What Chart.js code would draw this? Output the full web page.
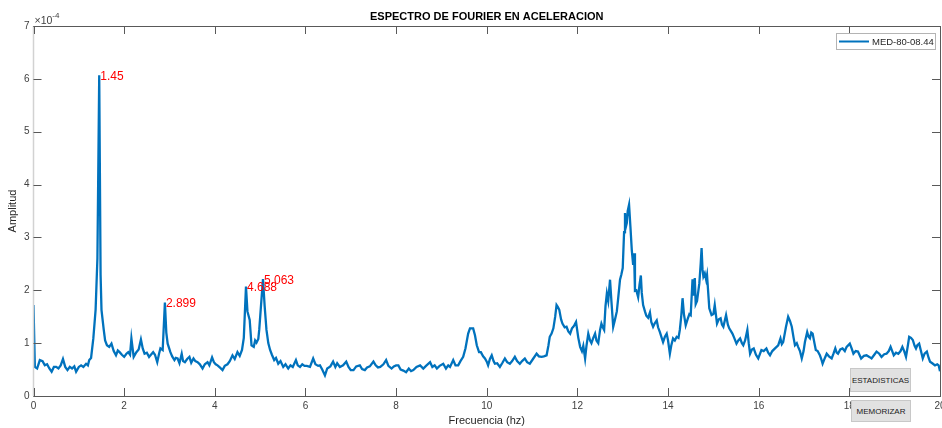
<!DOCTYPE html>
<html>
<head>
<meta charset="utf-8">
<script src="https://cdn.jsdelivr.net/npm/chart.js@4/dist/chart.umd.min.js"></script>
<style>
  body { margin: 0; background: #fff; }
  #wrap { position: relative; width: 942px; height: 428px; }
  .btn {
    position: absolute; box-sizing: border-box;
    background: #e1e1e1; border: 1px solid #c8c8c8;
    font: 8px "Liberation Sans", Arial, sans-serif; color: #1a1a1a;
    display: flex; align-items: center; justify-content: center;
  }
</style>
</head>
<body>
<div id="wrap">
  <canvas id="spectrum" width="942" height="428"></canvas>
  <div class="btn" style="left:850px; top:368px; width:61px; height:24px;">ESTADISTICAS</div>
  <div class="btn" style="left:851px; top:400px; width:60px; height:22px;">MEMORIZAR</div>
</div>
<script>
// Fourier amplitude spectrum, amplitudes in units of 1e-4
const seriesLabel = 'MED-80-08.44';
const freq = [
  0.00, 0.03, 0.08, 0.14, 0.20, 0.25, 0.30, 0.35, 0.40, 0.45, 0.50, 0.55, 0.60, 0.65, 0.70, 0.75,
  0.80, 0.85, 0.90, 0.94, 1.00, 1.05, 1.10, 1.16, 1.20, 1.23, 1.27, 1.32, 1.37, 1.41, 1.45, 1.48,
  1.50, 1.55, 1.58, 1.62, 1.67, 1.72, 1.77, 1.82, 1.86, 1.90, 1.95, 2.00, 2.05, 2.09, 2.13, 2.16,
  2.21, 2.27, 2.32, 2.37, 2.41, 2.45, 2.50, 2.55, 2.60, 2.64, 2.68, 2.73, 2.77, 2.80, 2.85, 2.899,
  2.93, 2.96, 3.02, 3.06, 3.11, 3.14, 3.18, 3.22, 3.27, 3.30, 3.34, 3.39, 3.44, 3.48, 3.53, 3.57,
  3.62, 3.67, 3.73, 3.78, 3.84, 3.88, 3.94, 3.98, 4.02, 4.06, 4.11, 4.17, 4.22, 4.28, 4.33, 4.39,
  4.44, 4.50, 4.55, 4.60, 4.64, 4.688, 4.72, 4.77, 4.81, 4.86, 4.89, 4.92, 4.96, 4.98, 5.01, 5.063,
  5.10, 5.14, 5.18, 5.22, 5.26, 5.31, 5.35, 5.40, 5.45, 5.51, 5.56, 5.62, 5.67, 5.72, 5.79, 5.83,
  5.88, 5.93, 5.98, 6.03, 6.10, 6.17, 6.22, 6.28, 6.32, 6.37, 6.43, 6.48, 6.55, 6.61, 6.66, 6.70,
  6.76, 6.83, 6.90, 6.95, 7.00, 7.06, 7.12, 7.20, 7.25, 7.31, 7.36, 7.42, 7.50, 7.55, 7.60, 7.65,
  7.72, 7.78, 7.83, 7.90, 7.95, 8.00, 8.05, 8.10, 8.16, 8.22, 8.28, 8.33, 8.38, 8.45, 8.53, 8.60,
  8.66, 8.75, 8.80, 8.85, 8.90, 8.96, 9.04, 9.10, 9.15, 9.19, 9.26, 9.31, 9.37, 9.42, 9.48, 9.53,
  9.59, 9.63, 9.67, 9.70, 9.74, 9.78, 9.83, 9.87, 9.92, 9.96, 10.00, 10.03, 10.07, 10.11, 10.15, 10.18,
  10.23, 10.29, 10.34, 10.40, 10.45, 10.51, 10.56, 10.62, 10.67, 10.73, 10.78, 10.84, 10.89, 10.95, 11.02, 11.10,
  11.15, 11.21, 11.26, 11.32, 11.36, 11.39, 11.43, 11.47, 11.51, 11.54, 11.57, 11.60, 11.64, 11.67, 11.72, 11.76,
  11.80, 11.84, 11.88, 11.91, 11.94, 11.97, 12.02, 12.06, 12.10, 12.13, 12.17, 12.20, 12.24, 12.28, 12.31, 12.35,
  12.39, 12.42, 12.46, 12.50, 12.53, 12.56, 12.59, 12.62, 12.65, 12.68, 12.72, 12.75, 12.79, 12.83, 12.87, 12.90,
  12.94, 12.97, 13.00, 13.03, 13.05, 13.07, 13.09, 13.11, 13.14, 13.17, 13.20, 13.23, 13.25, 13.27, 13.30, 13.34,
  13.37, 13.40, 13.42, 13.45, 13.49, 13.52, 13.56, 13.60, 13.63, 13.67, 13.71, 13.75, 13.78, 13.82, 13.86, 13.89,
  13.93, 13.97, 14.00, 14.04, 14.07, 14.11, 14.15, 14.19, 14.23, 14.26, 14.29, 14.32, 14.35, 14.39, 14.43, 14.47,
  14.50, 14.54, 14.56, 14.59, 14.61, 14.64, 14.67, 14.69, 14.72, 14.74, 14.76, 14.78, 14.81, 14.84, 14.86, 14.91,
  14.96, 15.00, 15.03, 15.08, 15.12, 15.16, 15.19, 15.22, 15.28, 15.32, 15.35, 15.42, 15.46, 15.51, 15.55, 15.59,
  15.63, 15.66, 15.70, 15.75, 15.78, 15.81, 15.85, 15.89, 15.94, 15.99, 16.03, 16.06, 16.11, 16.17, 16.21, 16.25,
  16.30, 16.36, 16.43, 16.48, 16.51, 16.54, 16.60, 16.65, 16.69, 16.73, 16.77, 16.80, 16.84, 16.87, 16.91, 16.95,
  16.99, 17.02, 17.07, 17.10, 17.13, 17.16, 17.19, 17.23, 17.26, 17.30, 17.35, 17.38, 17.41, 17.46, 17.50, 17.55,
  17.61, 17.65, 17.69, 17.72, 17.75, 17.80, 17.85, 17.90, 17.94, 18.01, 18.05, 18.09, 18.14, 18.19, 18.26, 18.32,
  18.38, 18.44, 18.49, 18.55, 18.60, 18.66, 18.71, 18.77, 18.82, 18.87, 18.91, 18.95, 18.98, 19.03, 19.08, 19.13,
  19.17, 19.21, 19.25, 19.29, 19.32, 19.36, 19.40, 19.44, 19.47, 19.50, 19.54, 19.58, 19.62, 19.66, 19.71, 19.75,
  19.78, 19.83, 19.89, 19.94, 19.97, 20.00
];
const amp = [
  1.72, 0.55, 0.52, 0.68, 0.66, 0.58, 0.60, 0.52, 0.46, 0.55, 0.55, 0.52, 0.58, 0.70, 0.55, 0.49,
  0.55, 0.52, 0.56, 0.46, 0.55, 0.58, 0.55, 0.61, 0.58, 0.68, 0.72, 1.09, 1.63, 2.60, 6.07, 2.30,
  1.63, 1.25, 1.05, 0.96, 0.93, 0.99, 0.85, 0.77, 0.86, 0.83, 0.78, 0.74, 0.80, 0.83, 0.78, 1.09,
  0.74, 0.83, 0.88, 1.07, 0.90, 0.80, 0.82, 0.74, 0.79, 0.83, 0.78, 0.64, 0.80, 0.90, 0.87, 1.77,
  1.20, 0.99, 0.83, 0.75, 0.68, 0.72, 0.71, 0.62, 0.80, 0.66, 0.64, 0.70, 0.74, 0.63, 0.71, 0.66,
  0.64, 0.60, 0.52, 0.60, 0.64, 0.58, 0.73, 0.64, 0.60, 0.58, 0.54, 0.49, 0.57, 0.60, 0.66, 0.77,
  0.70, 0.83, 0.76, 0.87, 1.10, 2.07, 1.60, 1.44, 0.96, 0.93, 1.05, 1.01, 1.08, 1.25, 1.60, 2.21,
  1.70, 1.25, 1.00, 0.87, 0.78, 0.68, 0.72, 0.61, 0.66, 0.55, 0.60, 0.52, 0.58, 0.55, 0.68, 0.58,
  0.55, 0.60, 0.57, 0.57, 0.55, 0.71, 0.60, 0.57, 0.58, 0.50, 0.39, 0.52, 0.56, 0.65, 0.55, 0.62,
  0.55, 0.58, 0.65, 0.55, 0.49, 0.49, 0.56, 0.58, 0.51, 0.49, 0.54, 0.56, 0.65, 0.58, 0.54, 0.55,
  0.60, 0.68, 0.57, 0.52, 0.56, 0.58, 0.58, 0.50, 0.48, 0.45, 0.52, 0.47, 0.49, 0.55, 0.58, 0.52,
  0.57, 0.64, 0.55, 0.58, 0.52, 0.57, 0.61, 0.52, 0.58, 0.55, 0.68, 0.58, 0.58, 0.66, 0.74, 0.90,
  1.18, 1.28, 1.28, 1.28, 1.15, 0.96, 0.83, 0.83, 0.75, 0.71, 0.65, 0.58, 0.70, 0.77, 0.66, 0.61,
  0.62, 0.55, 0.62, 0.71, 0.64, 0.61, 0.66, 0.74, 0.66, 0.61, 0.66, 0.71, 0.64, 0.61, 0.70, 0.80,
  0.75, 0.74, 0.75, 0.77, 0.95, 1.12, 1.18, 1.28, 1.50, 1.72, 1.68, 1.63, 1.45, 1.37, 1.30, 1.31,
  1.22, 1.18, 1.28, 1.31, 1.35, 1.40, 1.10, 0.93, 0.85, 0.95, 0.71, 0.95, 1.18, 1.05, 1.00, 1.10,
  1.18, 1.05, 1.00, 1.25, 1.37, 1.30, 1.25, 1.70, 1.94, 1.80, 2.20, 1.80, 1.31, 1.45, 1.60, 1.85,
  2.20, 2.30, 2.42, 3.10, 3.46, 3.20, 3.27, 3.50, 3.62, 3.20, 2.76, 2.48, 2.70, 1.99, 2.00, 1.87,
  2.10, 2.28, 1.95, 1.72, 1.60, 1.52, 1.48, 1.58, 1.40, 1.31, 1.38, 1.43, 1.30, 1.21, 1.10, 1.02,
  1.12, 1.18, 1.05, 0.80, 0.95, 1.09, 1.05, 1.12, 1.10, 1.25, 1.50, 1.85, 1.55, 1.34, 1.45, 1.55,
  1.53, 2.21, 1.90, 2.23, 1.74, 1.80, 2.00, 2.13, 2.50, 2.80, 2.40, 2.26, 2.32, 2.20, 2.29, 1.66,
  1.53, 1.55, 1.72, 1.37, 1.45, 1.47, 1.35, 1.31, 1.53, 1.35, 1.28, 1.18, 1.10, 0.99, 1.05, 1.09,
  1.00, 0.96, 1.05, 1.25, 1.00, 0.80, 0.88, 0.90, 0.78, 0.71, 0.80, 0.87, 0.85, 0.90, 0.82, 0.77,
  0.85, 0.90, 0.96, 1.09, 0.98, 1.02, 1.30, 1.50, 1.42, 1.31, 1.10, 0.96, 1.00, 0.93, 0.85, 0.71,
  0.85, 1.02, 1.21, 1.12, 1.09, 1.20, 1.18, 1.00, 0.87, 0.85, 0.77, 0.70, 0.61, 0.72, 0.80, 0.75,
  0.71, 0.80, 0.90, 0.82, 0.80, 0.88, 0.90, 0.85, 0.93, 0.99, 0.90, 0.80, 0.85, 0.84, 0.71, 0.76,
  0.77, 0.74, 0.71, 0.78, 0.84, 0.80, 0.74, 0.79, 0.80, 0.85, 0.93, 0.84, 0.77, 0.82, 0.80, 0.85,
  0.93, 0.85, 0.74, 0.95, 1.12, 1.10, 1.06, 0.95, 0.90, 0.96, 0.99, 0.85, 0.71, 0.80, 0.84, 0.72,
  0.65, 0.62, 0.58, 0.60, 0.58, 0.47
];
// frequencies picked as peaks and tagged on the plot
const peakFreqs = [1.45, 2.899, 4.688, 5.063];
const xTicks = [0, 2, 4, 6, 8, 10, 12, 14, 16, 18, 20];
const yTicks = [0, 1, 2, 3, 4, 5, 6, 7];

const FONT = '"Liberation Sans", Arial, sans-serif';
const LINE_BLUE = '#0072BD';
const AXIS_GRAY = '#595959';

const points = freq.map((f, i) => ({ x: f, y: amp[i] }));

// Axes box with inward ticks, exponent label, peak tags and legend
const decorations = {
  id: 'decorations',
  afterDraw(chart) {
    const { ctx, chartArea: a, scales: { x, y } } = chart;
    const L = a.left, R = a.right, T = a.top, B = a.bottom;
    const tick = 8;
    ctx.save();

    ctx.lineWidth = 1.5;
    ctx.strokeStyle = '#d2d2d2';
    ctx.beginPath(); ctx.moveTo(L, T); ctx.lineTo(L, B); ctx.stroke();

    ctx.lineWidth = 1;
    ctx.strokeStyle = AXIS_GRAY;
    ctx.beginPath();
    ctx.moveTo(L, B + 0.5); ctx.lineTo(R + 1, B + 0.5);
    ctx.moveTo(L, T + 0.5); ctx.lineTo(R + 1, T + 0.5);
    ctx.moveTo(R + 0.5, T); ctx.lineTo(R + 0.5, B);
    xTicks.forEach(v => {
      const px = Math.round(x.getPixelForValue(v)) + 0.5;
      ctx.moveTo(px, B); ctx.lineTo(px, B - tick);
      ctx.moveTo(px, T); ctx.lineTo(px, T + tick);
    });
    yTicks.forEach(v => {
      const py = Math.round(y.getPixelForValue(v)) + 0.5;
      ctx.moveTo(L, py); ctx.lineTo(L + tick, py);
      ctx.moveTo(R, py); ctx.lineTo(R - tick, py);
    });
    ctx.stroke();

    // exponent of the amplitude axis
    ctx.fillStyle = '#404040';
    ctx.textBaseline = 'alphabetic';
    ctx.textAlign = 'left';
    ctx.font = '10.5px ' + FONT;
    ctx.fillText('\u00d710', L + 1, T - 2.5);
    const w = ctx.measureText('\u00d710').width;
    ctx.font = '8px ' + FONT;
    ctx.fillText('-4', L + 1 + w, T - 8);

    // peak frequency tags
    ctx.fillStyle = '#ff0000';
    ctx.font = '12px ' + FONT;
    ctx.textBaseline = 'middle';
    peakFreqs.forEach(f => {
      const i = freq.indexOf(f);
      ctx.fillText(String(f), x.getPixelForValue(f) + 1, y.getPixelForValue(amp[i]) + 1.5);
    });

    // legend box
    const lx = 836.5, ly = 33.5, lw = 99, lh = 16;
    ctx.fillStyle = '#ffffff';
    ctx.fillRect(lx, ly, lw, lh);
    ctx.strokeStyle = '#b4b4b4';
    ctx.strokeRect(lx, ly, lw, lh);
    ctx.strokeStyle = LINE_BLUE;
    ctx.lineWidth = 2;
    ctx.beginPath(); ctx.moveTo(839, 41.5); ctx.lineTo(869, 41.5); ctx.stroke();
    ctx.fillStyle = '#262626';
    ctx.font = '9.5px ' + FONT;
    ctx.fillText(seriesLabel, 872, 42);

    ctx.restore();
  }
};

new Chart(document.getElementById('spectrum'), {
  type: 'line',
  data: {
    datasets: [{
      label: seriesLabel,
      data: points,
      borderColor: LINE_BLUE,
      borderWidth: 2.3,
      pointRadius: 0,
      tension: 0,
      fill: false
    }]
  },
  options: {
    responsive: false,
    animation: false,
    layout: { autoPadding: false, padding: { left: 0, right: 2, top: 0, bottom: 0 } },
    plugins: {
      legend: { display: false },
      tooltip: { enabled: false },
      title: {
        display: true,
        fullSize: false,
        text: 'ESPECTRO DE FOURIER EN ACELERACION',
        color: '#000',
        font: { family: FONT, size: 11, weight: 'bold', lineHeight: 1.2 },
        padding: { top: 10.5, bottom: 2.3 }
      }
    },
    scales: {
      x: {
        type: 'linear',
        min: 0,
        max: 20,
        afterFit: s => { s.height = 32; s.paddingLeft = 0; s.paddingRight = 0; },
        afterBuildTicks: s => { s.ticks = xTicks.map(v => ({ value: v })); },
        grid: { display: false, drawTicks: false },
        border: { display: false },
        ticks: { color: '#404040', font: { family: FONT, size: 10 }, padding: 4, maxRotation: 0 },
        title: {
          display: true,
          text: 'Frecuencia (hz)',
          color: '#262626',
          font: { family: FONT, size: 11 },
          padding: { top: 0, bottom: 0 }
        }
      },
      y: {
        min: 0,
        max: 7,
        afterFit: s => { s.width = 33.5; s.paddingTop = 0; s.paddingBottom = 0; },
        afterBuildTicks: s => { s.ticks = yTicks.map(v => ({ value: v })); },
        grid: { display: false, drawTicks: false },
        border: { display: false },
        ticks: { color: '#404040', font: { family: FONT, size: 10 }, padding: 4 },
        title: {
          display: true,
          text: 'Amplitud',
          color: '#262626',
          font: { family: FONT, size: 11 },
          padding: { top: 6, bottom: 0 }
        }
      }
    }
  },
  plugins: [decorations]
});
</script>
</body>
</html>
